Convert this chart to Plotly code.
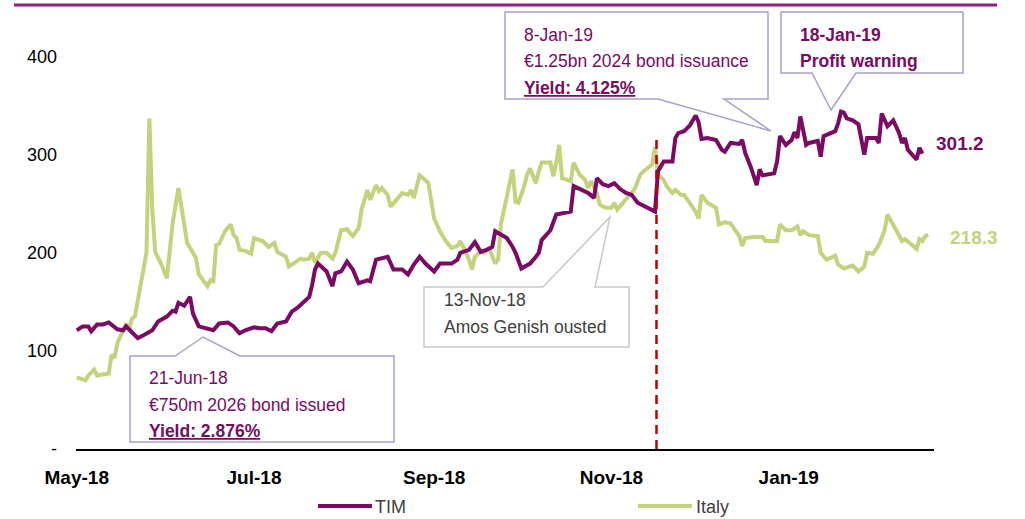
import pandas as pd
import plotly.graph_objects as go

# ---------------- data ----------------
start_date = "2018-05-01"

tim_days = [0, 2, 4, 5, 7, 9, 11, 14, 16, 17, 19, 21, 23, 26, 28, 31, 33, 34, 35, 37, 39, 40, 42, 45, 47, 49,
            52, 54, 56, 58, 61, 63, 65, 67, 69, 72, 74, 76, 78, 80, 81, 82, 83, 85, 86, 88, 89, 91, 93, 95, 97,
            100, 101, 103, 105, 107, 109, 112, 114, 116, 118, 120, 123, 125, 129, 131, 132, 135, 137, 139, 141,
            143, 144, 146, 148, 150, 151, 153, 156, 158, 159, 160, 163, 165, 167, 170, 171, 174, 176, 178, 179,
            181, 183, 185, 187, 189, 191, 193, 195, 197, 199, 200, 202, 205, 206, 207, 209, 211, 213, 214, 215,
            217, 220, 222, 223, 225, 228, 229, 230, 232, 234, 235, 236, 240, 241, 242, 244, 246, 247, 248, 249,
            251, 252, 255, 256, 257, 259, 261, 262, 263, 264, 265, 267, 269, 271, 272, 275, 276, 277, 279, 281,
            283, 284, 285, 286, 287, 289, 290, 291]
tim_values = [121, 125, 125, 120, 127, 127, 129, 122, 121, 125, 119, 113, 116, 121, 130, 135, 141, 140, 149, 146,
              155, 138, 125, 123, 121, 128, 129, 125, 118, 121, 124, 123, 123, 120, 128, 130, 140, 144, 149, 155,
              167, 183, 189, 184, 181, 166, 179, 181, 191, 183, 169, 172, 171, 193, 195, 196, 183, 183, 178, 188,
              196, 189, 181, 189, 189, 193, 200, 203, 211, 201, 203, 206, 222, 218, 215, 206, 200, 184, 189, 196,
              200, 213, 223, 239, 240, 242, 268, 264, 261, 256, 276, 270, 268, 271, 265, 261, 259, 251, 248, 245,
              242, 283, 293, 293, 317, 322, 324, 330, 340, 333, 316, 317, 315, 305, 303, 312, 311, 315, 302, 287,
              269, 285, 279, 281, 293, 319, 310, 315, 323, 317, 339, 310, 312, 314, 298, 319, 321, 324, 332, 344,
              343, 337, 335, 331, 300, 317, 317, 312, 342, 329, 335, 322, 312, 317, 305, 302, 295, 307, 301.2]

italy_days = [0, 3, 4, 6, 7, 11, 12, 13, 14, 17, 18, 19, 20, 22, 24, 25, 26, 27, 29, 31, 33, 35, 38, 40, 41, 42,
              45, 46, 47, 48, 49, 51, 53, 54, 55, 56, 58, 60, 61, 64, 66, 68, 69, 72, 73, 75, 77, 78, 80, 81, 82,
              84, 86, 88, 89, 91, 93, 95, 97, 98, 100, 101, 103, 104, 105, 107, 108, 110, 112, 114, 115, 116, 118,
              120, 121, 123, 125, 127, 129, 131, 132, 134, 135, 136, 137, 139, 140, 142, 144, 145, 146, 148, 150,
              151, 152, 154, 155, 156, 158, 159, 160, 163, 164, 165, 166, 167, 170, 171, 173, 175, 176, 177, 179,
              180, 182, 184, 185, 186, 189, 192, 194, 195, 198, 199, 200, 202, 203, 205, 206, 208, 209, 211, 213,
              214, 215, 217, 219, 220, 221, 223, 225, 228, 229, 230, 233, 236, 237, 241, 242, 244, 246, 248, 249,
              250, 252, 255, 256, 258, 261, 262, 264, 267, 269, 271, 272, 274, 276, 278, 279, 280, 282, 284, 285,
              287, 289, 290, 291, 292, 293]
italy_values = [73, 70, 75, 81, 75, 77, 96, 93, 108, 128, 121, 133, 135, 166, 200, 337, 244, 201, 189, 174, 230,
                266, 210, 200, 195, 178, 166, 172, 171, 208, 209, 222, 229, 218, 215, 203, 202, 199, 215, 212, 206,
                210, 201, 196, 186, 190, 194, 193, 194, 200, 190, 200, 200, 194, 200, 223, 224, 217, 225, 244, 264,
                254, 269, 263, 266, 259, 247, 254, 261, 259, 264, 256, 279, 274, 271, 235, 222, 212, 205, 207, 212,
                200, 193, 183, 196, 201, 200, 204, 189, 193, 230, 257, 285, 252, 251, 268, 280, 286, 271, 283, 292,
                292, 278, 292, 310, 276, 273, 292, 280, 274, 266, 273, 261, 249, 246, 246, 251, 244, 254, 265, 280,
                283, 290, 308, 280, 274, 268, 261, 264, 259, 259, 251, 242, 235, 259, 251, 247, 246, 229, 231, 230,
                217, 207, 215, 216, 216, 212, 212, 229, 223, 223, 227, 218, 222, 218, 217, 200, 193, 197, 188, 184,
                187, 181, 186, 200, 199, 208, 223, 239, 234, 223, 212, 214, 209, 204, 214, 212, 217, 218.3]

series_names = ["TIM", "Italy"]
x_tick_dates = ["2018-05-01", "2018-07-01", "2018-09-01", "2018-11-01", "2019-01-01"]
x_tick_labels = ["May-18", "Jul-18", "Sep-18", "Nov-18", "Jan-19"]
y_tick_values = [0, 100, 200, 300, 400]
y_tick_labels = ["-", "100", "200", "300", "400"]
event_date = "2018-11-16 12:00"
event_level = 317

# ---------------- styling ----------------
TIM_C = "#7B0A64"
ITA_C = "#C5D17C"
BOX_C = "#A9A0CC"
GREY_BOX = "#C8C8C8"
FONT = "Liberation Sans, Arial, sans-serif"

W, H = 1025, 519
L, R, T, B = 76, 934, 37, 449


def px(x):
    return (x - L) / (R - L)


def py(y):
    return (B - y) / (B - T)


def to_dates(days):
    return pd.Timestamp(start_date) + pd.to_timedelta(days, unit="D")


fig = go.Figure()
fig.add_trace(go.Scatter(x=to_dates(italy_days), y=italy_values, mode="lines", name=series_names[1],
                         line=dict(color=ITA_C, width=4)))
fig.add_trace(go.Scatter(x=to_dates(tim_days), y=tim_values, mode="lines", name=series_names[0],
                         line=dict(color=TIM_C, width=4)))

shapes = []
# header rule
shapes.append(dict(type="line", xref="paper", yref="paper", x0=px(14), x1=px(997), y0=py(5), y1=py(5),
                   line=dict(color="#8E1E80", width=3)))
# event dashed line
shapes.append(dict(type="line", xref="x", yref="y", x0=event_date, x1=event_date, y0=0, y1=event_level,
                   line=dict(color="#C00000", width=2.5, dash="9px,6px")))


def poly(points, color):
    d = "M " + " L ".join(f"{px(x):.5f},{py(y):.5f}" for x, y in points) + " Z"
    return dict(type="path", xref="paper", yref="paper", path=d, fillcolor="white",
                line=dict(color=color, width=1.5), layer="above")


shapes.append(poly([(505, 12), (768, 12), (768, 99), (724, 99), (771, 131), (658, 99), (505, 99)], BOX_C))
shapes.append(poly([(781, 12), (963, 12), (963, 73), (856, 73), (831, 110), (812, 73), (781, 73)], BOX_C))
shapes.append(poly([(130, 356), (175, 356), (203, 337), (240, 356), (394, 356), (394, 442), (130, 442)], BOX_C))
shapes.append(poly([(424, 287), (543, 287), (610, 217), (595, 287), (629, 287), (629, 347), (424, 347)], GREY_BOX))

# legend (manual)
shapes.append(dict(type="line", xref="paper", yref="paper", x0=px(318), x1=px(372), y0=py(506), y1=py(506),
                   line=dict(color=TIM_C, width=4)))
shapes.append(dict(type="line", xref="paper", yref="paper", x0=px(638), x1=px(692), y0=py(506), y1=py(506),
                   line=dict(color=ITA_C, width=4)))

anns = []


def txt(x, y, text, color, size=17.5, xanchor="left"):
    anns.append(dict(xref="paper", yref="paper", x=px(x), y=py(y), text=text, showarrow=False,
                     xanchor=xanchor, yanchor="middle", align="left",
                     font=dict(family=FONT, size=size, color=color)))


txt(522, 35, "8-Jan-19", TIM_C)
txt(522, 61, "€1.25bn 2024 bond issuance", TIM_C)
txt(522, 88, "<b><u>Yield: 4.125%</u></b>", TIM_C)
txt(798, 35, "<b>18-Jan-19</b>", TIM_C)
txt(798, 61, "<b>Profit warning</b>", TIM_C)
txt(147, 378, "21-Jun-18", TIM_C)
txt(147, 405, "€750m 2026 bond issued", TIM_C)
txt(147, 431, "<b><u>Yield: 2.876%</u></b>", TIM_C)
txt(442, 300, "13-Nov-18", "#404040")
txt(442, 327, "Amos Genish ousted", "#404040")
txt(934, 143, "<b>301.2</b>", TIM_C, size=19)
txt(948, 237, "<b>218.3</b>", ITA_C, size=19)
txt(373, 507, series_names[0], "#404040", size=18)
txt(694, 507, series_names[1], "#404040", size=18)

fig.update_layout(
    width=W, height=H,
    margin=dict(l=L, r=W - R, t=T, b=H - B, autoexpand=False),
    plot_bgcolor="white", paper_bgcolor="white",
    showlegend=False,
    shapes=shapes, annotations=anns,
    font=dict(family=FONT, size=17, color="black"),
)
fig.update_xaxes(
    type="date", range=["2018-04-30 18:00", "2019-02-20"], automargin=False,
    tickvals=x_tick_dates, ticktext=[f"<b>{t}</b>" for t in x_tick_labels],
    showline=True, linecolor="black", linewidth=1.5, showgrid=False, zeroline=False,
    ticks="", ticklabelstandoff=10, tickfont=dict(family=FONT, size=19, color="black"),
)
fig.update_yaxes(
    range=[0, 420], tickvals=y_tick_values, ticktext=y_tick_labels, automargin=False,
    showline=False, showgrid=False, zeroline=False, ticks="", ticklabelstandoff=18,
    tickfont=dict(family=FONT, size=18, color="black"),
)

fig.write_html("out.html", config={"displayModeBar": False},
               post_script="document.body.style.margin='0';document.body.style.overflow='hidden';")
